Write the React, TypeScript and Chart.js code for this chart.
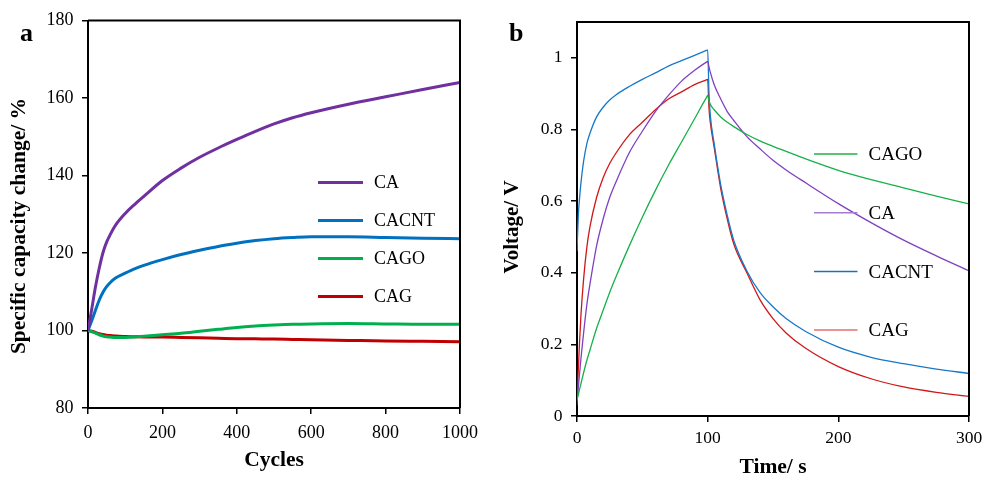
import React, { useEffect, useRef } from 'react';
import { Chart, registerables } from 'chart.js';

Chart.register(...registerables);

const FONT = '"Liberation Serif", "Times New Roman", serif';

// ---------- Panel a: specific capacity change vs cycles ----------
const cycles = [0, 10, 20, 30, 40, 50, 60, 75, 100, 125, 150, 200, 250, 300, 350, 400, 450, 500, 550, 600, 700, 800, 900, 1000];
const capCA = [100, 105.5, 111.2, 116, 120, 122.8, 124.8, 127.3, 130.2, 132.5, 134.6, 138.7, 141.9, 144.7, 147.1, 149.3, 151.4, 153.3, 154.9, 156.2, 158.4, 160.3, 162.2, 164];
const capCACNT = [100, 102.5, 105.2, 107.8, 109.8, 111.3, 112.4, 113.6, 114.8, 115.9, 116.8, 118.3, 119.6, 120.7, 121.7, 122.5, 123.2, 123.7, 124.0, 124.2, 124.2, 124.0, 123.8, 123.7];
const capCAGO = [100, 99.7, 99.3, 98.9, 98.6, 98.4, 98.3, 98.2, 98.2, 98.3, 98.5, 98.9, 99.3, 99.8, 100.3, 100.8, 101.15, 101.4, 101.6, 101.7, 101.8, 101.7, 101.6, 101.6];
const capCAG = [100, 99.8, 99.5, 99.2, 99.0, 98.8, 98.7, 98.55, 98.45, 98.4, 98.35, 98.3, 98.2, 98.1, 98.0, 97.9, 97.85, 97.8, 97.7, 97.6, 97.45, 97.3, 97.2, 97.1];
const cycleTicks = [0, 200, 400, 600, 800, 1000];
const capTicks = [80, 100, 120, 140, 160, 180];

// ---------- Panel b: voltage vs time ----------
const timeS = [0, 1, 2, 3, 5, 7.5, 10, 15, 20, 25, 30, 40, 50, 60, 70, 80, 90, 99, 100,
  101, 102, 105, 110, 115, 120, 130, 140, 150, 160, 175, 200, 225, 250, 275, 300];
const vCAGO = [0.045, 0.06, 0.075, 0.09, 0.12, 0.155, 0.185, 0.245, 0.295, 0.345, 0.39, 0.475, 0.555, 0.63, 0.70, 0.765, 0.83, 0.889, 0.895,
  0.88, 0.87, 0.855, 0.835, 0.82, 0.808, 0.786, 0.768, 0.753, 0.739, 0.718, 0.686, 0.66, 0.637, 0.614, 0.592];
const vCA = [0.04, 0.08, 0.12, 0.16, 0.23, 0.31, 0.37, 0.475, 0.55, 0.61, 0.655, 0.735, 0.795, 0.85, 0.895, 0.935, 0.965, 0.988, 0.99,
  0.975, 0.96, 0.925, 0.885, 0.85, 0.825, 0.78, 0.746, 0.714, 0.687, 0.651, 0.593, 0.540, 0.491, 0.447, 0.405];
const vCACNT = [0.46, 0.56, 0.61, 0.65, 0.71, 0.76, 0.79, 0.835, 0.862, 0.882, 0.897, 0.92, 0.94, 0.958, 0.977, 0.992, 1.007, 1.0205, 1.022,
  0.90, 0.84, 0.76, 0.645, 0.56, 0.49, 0.405, 0.345, 0.305, 0.272, 0.236, 0.192, 0.164, 0.146, 0.131, 0.119];
const vCAG = [0.03, 0.13, 0.21, 0.28, 0.38, 0.47, 0.53, 0.61, 0.665, 0.705, 0.735, 0.785, 0.82, 0.855, 0.885, 0.905, 0.925, 0.9385, 0.94,
  0.86, 0.82, 0.75, 0.635, 0.55, 0.48, 0.40, 0.325, 0.272, 0.232, 0.189, 0.138, 0.104, 0.081, 0.066, 0.055];
const timeTicks = [0, 100, 200, 300];
const voltTicks = [0, 0.2, 0.4, 0.6, 0.8, 1];

const pts = (xs: number[], ys: number[]) => xs.map((x, i) => ({ x, y: ys[i] }));

const decorPlugin = {
  id: 'decor',
  afterDatasetsDraw(chart: any, _args: any, o: any) {
    const { ctx, chartArea: ca } = chart;
    ctx.save();
    // frame (top + right)
    ctx.strokeStyle = '#000';
    ctx.lineWidth = 2;
    ctx.beginPath();
    ctx.moveTo(ca.left, ca.top);
    ctx.lineTo(ca.right, ca.top);
    ctx.lineTo(ca.right, ca.bottom);
    ctx.stroke();
    // legend
    chart.data.datasets.forEach((ds: any, i: number) => {
      const y = ca.top + o.legY + i * o.legGap;
      const x0 = ca.left + o.legX;
      ctx.strokeStyle = (o.legColors && o.legColors[i]) || ds.borderColor;
      ctx.lineWidth = o.legLineWidth;
      ctx.beginPath();
      ctx.moveTo(x0, y);
      ctx.lineTo(x0 + o.legLen, y);
      ctx.stroke();
      ctx.fillStyle = '#000';
      ctx.font = `${o.legFont}px ${FONT}`;
      ctx.textAlign = 'left';
      ctx.textBaseline = 'alphabetic';
      ctx.fillText(ds.label, x0 + o.legLen + o.legTextGap, y + o.legFont * 0.33);
    });
    // panel letter
    ctx.fillStyle = '#000';
    ctx.font = `bold ${o.letterSize}px ${FONT}`;
    ctx.textAlign = 'left';
    ctx.textBaseline = 'alphabetic';
    ctx.fillText(o.letter, o.letterX, o.letterY);
    // y-axis title
    ctx.save();
    ctx.translate(o.yTitleX, o.yTitleY);
    ctx.rotate(-Math.PI / 2);
    ctx.font = `bold ${o.yTitleSize}px ${FONT}`;
    ctx.textAlign = 'center';
    ctx.textBaseline = 'middle';
    ctx.fillText(o.yTitle, 0, 0);
    ctx.restore();
    ctx.restore();
  },
};

function makeAxis(opts: any) {
  return {
    type: 'linear',
    min: opts.min,
    max: opts.max,
    afterBuildTicks: (s: any) => {
      s.ticks = opts.ticks.map((v: number) => ({ value: v }));
    },
    afterFit: (s: any) => {
      opts.afterFit(s);
      s.paddingLeft = 0;
      s.paddingRight = 0;
      s.paddingTop = 0;
      s.paddingBottom = 0;
    },
    border: { display: true, color: '#000', width: 2 },
    grid: { drawOnChartArea: false, drawTicks: true, tickLength: 6, color: '#000', lineWidth: 1.5 },
    ticks: {
      color: '#000',
      padding: opts.padding,
      font: { family: FONT, size: opts.fontSize },
      callback: (v: number) => String(Number(Number(v).toFixed(2))),
    },
    title: opts.title,
  };
}

export default function App() {
  const refA = useRef<HTMLCanvasElement>(null);
  const refB = useRef<HTMLCanvasElement>(null);

  useEffect(() => {
    const chartA = new Chart(refA.current as HTMLCanvasElement, {
      type: 'line',
      data: {
        datasets: [
          { label: 'CA', data: pts(cycles, capCA), borderColor: '#7030A0' },
          { label: 'CACNT', data: pts(cycles, capCACNT), borderColor: '#0070C0' },
          { label: 'CAGO', data: pts(cycles, capCAGO), borderColor: '#00B050' },
          { label: 'CAG', data: pts(cycles, capCAG), borderColor: '#C00000' },
        ] as any,
      },
      options: {
        responsive: false,
        animation: false,
        devicePixelRatio: 1,
        layout: { padding: { left: 0, top: 20.5, right: 31, bottom: 0 } },
        elements: {
          point: { radius: 0 },
          line: { borderWidth: 3, cubicInterpolationMode: 'monotone', fill: false },
        },
        scales: {
          x: makeAxis({
            min: 0, max: 1000, ticks: cycleTicks, padding: 8, fontSize: 18,
            afterFit: (s: any) => { s.height = 69; },
            title: {
              display: true, text: 'Cycles', color: '#000',
              font: { family: FONT, size: 21.5, weight: 'bold', lineHeight: 1.2 },
              padding: { top: 0, bottom: 4 },
            },
          }),
          y: makeAxis({
            min: 80, max: 180, ticks: capTicks, padding: 8.5, fontSize: 18,
            afterFit: (s: any) => { s.width = 88; },
            title: { display: false },
          }),
        } as any,
        plugins: {
          legend: { display: false },
          tooltip: { enabled: false },
          decor: {
            legX: 230, legY: 162, legGap: 38, legLen: 45, legTextGap: 11, legLineWidth: 3, legFont: 18,
            letter: 'a', letterX: 20, letterY: 40.5, letterSize: 26,
            yTitle: 'Specific capacity change/ %', yTitleX: 19, yTitleY: 226, yTitleSize: 21.5,
          },
        } as any,
      },
      plugins: [decorPlugin],
    });

    const chartB = new Chart(refB.current as HTMLCanvasElement, {
      type: 'line',
      data: {
        datasets: [
          { label: 'CAGO', data: pts(timeS, vCAGO), borderColor: '#18B04A' },
          { label: 'CA', data: pts(timeS, vCA), borderColor: '#8040C0' },
          { label: 'CACNT', data: pts(timeS, vCACNT), borderColor: '#1878C8' },
          { label: 'CAG', data: pts(timeS, vCAG), borderColor: '#D01818' },
        ] as any,
      },
      options: {
        responsive: false,
        animation: false,
        devicePixelRatio: 1,
        layout: { padding: { left: 0, top: 22, right: 13, bottom: 0 } },
        elements: {
          point: { radius: 0 },
          line: { borderWidth: 1.3, cubicInterpolationMode: 'monotone', fill: false },
        },
        scales: {
          x: makeAxis({
            min: 0, max: 300, ticks: timeTicks, padding: 5.5, fontSize: 17.5,
            afterFit: (s: any) => { s.height = 61; },
            title: {
              display: true, text: 'Time/ s', color: '#000',
              font: { family: FONT, size: 21.5, weight: 'bold', lineHeight: 0.9 },
              padding: { top: 0, bottom: 0 },
            },
          }),
          y: makeAxis({
            min: 0, max: 1.1, ticks: voltTicks, padding: 8.5, fontSize: 17.5,
            afterFit: (s: any) => { s.width = 86; },
            title: { display: false },
          }),
        } as any,
        plugins: {
          legend: { display: false },
          tooltip: { enabled: false },
          decor: {
            legX: 237, legY: 132, legGap: 58.7, legLen: 43.5, legTextGap: 11, legLineWidth: 1.5, legFont: 19,
            legColors: ['#22B04B', '#A47CD2', '#1F6FB8', '#E07070'],
            letter: 'b', letterX: 18, letterY: 40.5, letterSize: 26,
            yTitle: 'Voltage/ V', yTitleX: 22, yTitleY: 227, yTitleSize: 21,
          },
        } as any,
      },
      plugins: [decorPlugin],
    });

    return () => {
      chartA.destroy();
      chartB.destroy();
    };
  }, []);

  return (
    <div style={{ position: 'absolute', left: 0, top: 0, width: 982, height: 477, display: 'flex', background: '#fff', overflow: 'hidden' }}>
      <canvas ref={refA} width={491} height={477} style={{ display: 'block', width: 491, height: 477 }} />
      <canvas ref={refB} width={491} height={477} style={{ display: 'block', width: 491, height: 477 }} />
    </div>
  );
}
